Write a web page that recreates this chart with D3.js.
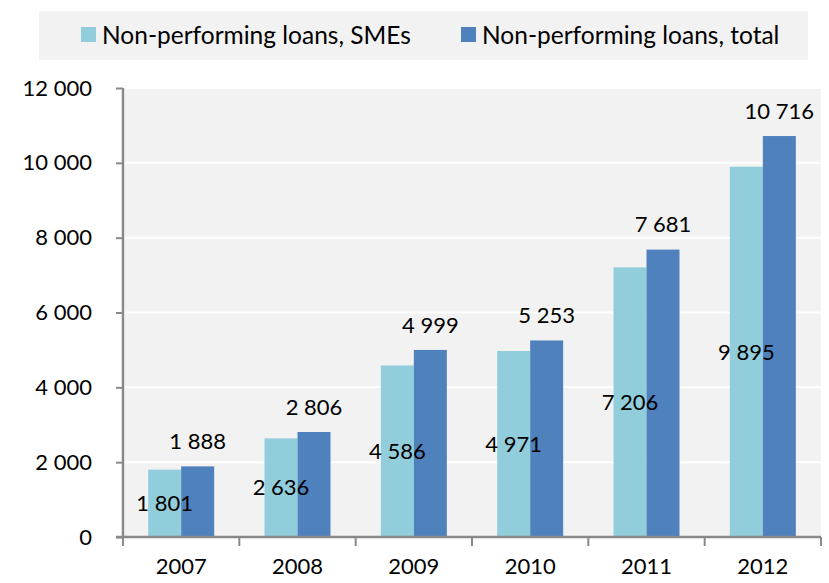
<!DOCTYPE html>
<html>
<head>
<meta charset="utf-8">
<script src="https://cdn.jsdelivr.net/npm/d3@7"></script>
<style>
  body { margin: 0; background: #fff; }
  svg text { font-family: Lato, "Open Sans", sans-serif; fill: #000; }
</style>
</head>
<body>
<div id="chart"></div>
<script>
// data
const years = ["2007", "2008", "2009", "2010", "2011", "2012"];
const smeLoans = [1801, 2636, 4586, 4971, 7206, 9895];
const totalLoans = [1888, 2806, 4999, 5253, 7681, 10716];
const seriesNames = ["Non-performing loans, SMEs", "Non-performing loans, total"];
const yTicks = [0, 2000, 4000, 6000, 8000, 10000, 12000];

const W = 829, H = 583;
const plot = { left: 123, right: 821, top: 88, bottom: 537 };
const colors = ["#92cddc", "#4f81bd"];

const svg = d3.select("#chart").append("svg")
    .attr("width", W)
    .attr("height", H);

// scales
const x = d3.scaleBand().domain(years).range([plot.left, plot.right]).padding(0);
const groupW = 66;
const xSeries = d3.scaleBand().domain([0, 1]).range([0, groupW]).padding(0);
const y = d3.scaleLinear().domain([0, 12000]).range([plot.bottom, plot.top]);

const fmt = v => d3.format(",")(v).replace(/,/g, " ");

// plot background + gridlines
svg.append("rect")
    .attr("x", plot.left + 2).attr("y", plot.top)
    .attr("width", plot.right - plot.left - 2).attr("height", plot.bottom - plot.top)
    .attr("fill", "#f2f2f2");

svg.append("g").selectAll("line")
    .data(yTicks.slice(1))
    .join("line")
    .attr("x1", plot.left).attr("x2", plot.right)
    .attr("y1", d => y(d)).attr("y2", d => y(d))
    .attr("stroke", "#fff").attr("stroke-width", 2);

// bars
const rows = years.map((yr, i) => ({ year: yr, vals: [smeLoans[i], totalLoans[i]] }));
const groups = svg.append("g").selectAll("g")
    .data(rows)
    .join("g")
    .attr("transform", d => `translate(${x(d.year) + (x.bandwidth() - groupW) / 2},0)`);

groups.selectAll("rect")
    .data(d => d.vals.map((v, k) => ({ v, k })))
    .join("rect")
    .attr("x", d => xSeries(d.k))
    .attr("width", xSeries.bandwidth())
    .attr("y", d => y(d.v))
    .attr("height", d => y(0) - y(d.v))
    .attr("fill", d => colors[d.k]);

// labels: SMEs centred in bar, total above bar
groups.selectAll("text")
    .data(d => d.vals.map((v, k) => ({ v, k })))
    .join("text")
    .attr("x", d => xSeries(d.k) + xSeries.bandwidth() / 2)
    .attr("y", d => d.k === 0 ? (y(d.v) + y(0)) / 2 : y(d.v) - 25)
    .attr("dy", "0.35em")
    .attr("text-anchor", "middle")
    .style("font-size", "22px")
    .text(d => fmt(d.v));

// axes
const yAxis = svg.append("g")
    .attr("transform", `translate(${plot.left},0)`)
    .call(d3.axisLeft(y).tickValues(yTicks).tickSize(7).tickPadding(24).tickFormat(fmt));
yAxis.selectAll("text").style("font-size", "22px");

const xAxis = svg.append("g")
    .attr("transform", `translate(0,${plot.bottom})`)
    .call(d3.axisBottom(x).tickSize(0).tickPadding(21));
xAxis.selectAll("text").style("font-size", "22px");
xAxis.selectAll(".tick line").remove();

// category boundary ticks
xAxis.append("g").selectAll("line")
    .data(years.concat(["end"]))
    .join("line")
    .attr("x1", (d, i) => i < years.length ? x(d) : plot.right)
    .attr("x2", (d, i) => i < years.length ? x(d) : plot.right)
    .attr("y1", 0).attr("y2", 9)
    .attr("stroke", "#898989").attr("stroke-width", 2);

[yAxis, xAxis].forEach(a => {
    a.select(".domain").attr("stroke", "#898989").attr("stroke-width", 2.5);
    a.selectAll(".tick line").attr("stroke", "#898989").attr("stroke-width", 2);
});
xAxis.select(".domain").attr("d", `M${plot.left - 7},0H${plot.right}`);
yAxis.select(".domain").attr("d", `M0,${plot.top}V${plot.bottom}`);

// legend
const legend = svg.append("g");
legend.append("rect")
    .attr("x", 39).attr("y", 11).attr("width", 769).attr("height", 49)
    .attr("fill", "#f2f2f2");
const legendX = [81, 461];
seriesNames.forEach((name, i) => {
    legend.append("rect")
        .attr("x", legendX[i]).attr("y", 27).attr("width", 15).attr("height", 15)
        .attr("fill", colors[i]);
    legend.append("text")
        .attr("x", legendX[i] + 21).attr("y", 35).attr("dy", "0.35em")
        .style("font-size", "24.5px")
        .text(name);
});
</script>
</body>
</html>
